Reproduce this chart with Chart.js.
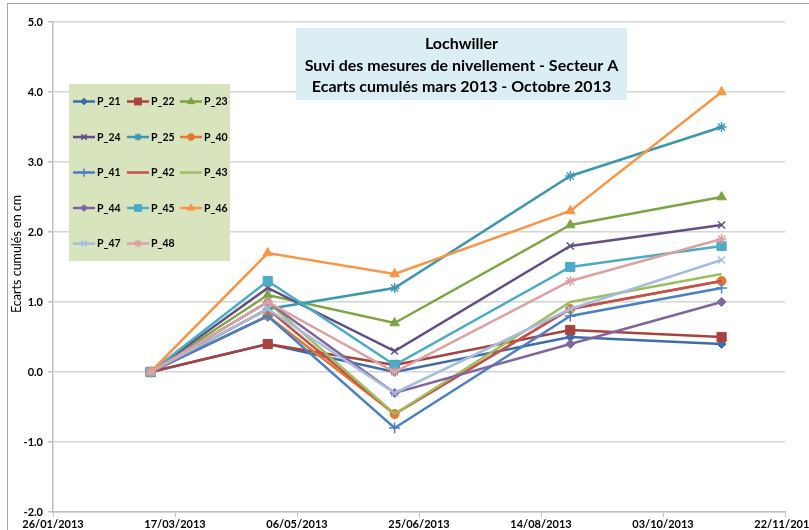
<!DOCTYPE html>
<html>
<head>
<meta charset="utf-8">
<script src="https://cdn.jsdelivr.net/npm/chart.js@4.4.1/dist/chart.umd.min.js"></script>
<style>
  html, body { margin: 0; padding: 0; background: #ffffff; }
  #wrap { width: 809px; height: 530px; position: relative; }
</style>
</head>
<body>
<div id="wrap"><canvas id="c" width="809" height="530"></canvas></div>
<script>
// Survey campaigns (levelling measurements) and date axis
const surveyDates = ['2013-03-07', '2013-04-24', '2013-06-15', '2013-08-26', '2013-10-27'];
const axisStart = '2013-01-26';
const axisEnd = '2013-11-22';
const dateTickLabels = ['26/01/2013', '17/03/2013', '06/05/2013', '25/06/2013', '14/08/2013', '03/10/2013', '22/11/2013'];

// Cumulated offsets per benchmark, in cm
const P_21 = [0, 0.4, 0.0, 0.5, 0.4];
const P_22 = [0, 0.4, 0.1, 0.6, 0.5];
const P_23 = [0, 1.1, 0.7, 2.1, 2.5];
const P_24 = [0, 1.2, 0.3, 1.8, 2.1];
const P_25 = [0, 0.9, 1.2, 2.8, 3.5];
const P_40 = [0, 0.8, -0.6, 0.9, 1.3];
const P_41 = [0, 0.8, -0.8, 0.8, 1.2];
const P_42 = [0, 0.9, -0.6, 0.9, 1.3];
const P_43 = [0, 1.0, -0.6, 1.0, 1.4];
const P_44 = [0, 1.0, -0.3, 0.4, 1.0];
const P_45 = [0, 1.3, 0.1, 1.5, 1.8];
const P_46 = [0, 1.7, 1.4, 2.3, 4.0];
const P_47 = [0, 0.9, -0.3, 0.9, 1.6];
const P_48 = [0, 1.0, 0.0, 1.3, 1.9];

const seriesNames = ['P_21', 'P_22', 'P_23', 'P_24', 'P_25', 'P_40', 'P_41', 'P_42', 'P_43', 'P_44', 'P_45', 'P_46', 'P_47', 'P_48'];
const seriesValues = [P_21, P_22, P_23, P_24, P_25, P_40, P_41, P_42, P_43, P_44, P_45, P_46, P_47, P_48];

const yTitle = 'Ecarts cumulés en cm';
const titleLines = ['Lochwiller', 'Suvi des mesures de nivellement - Secteur A', 'Ecarts cumulés mars 2013 - Octobre 2013'];

// Styling per series
const seriesColors = ['#3E6DAA', '#A8423F', '#7EA443', '#644E86', '#3D97AE', '#E1782E', '#4B80C4', '#C4514E', '#9DBE5C', '#8165A3', '#4BACC6', '#F79646', '#A5BDDE', '#DCA2A1'];
const seriesMarkers = ['rectRot', 'rect', 'triangle', 'crossRot', 'star', 'circle', 'cross', false, false, 'rectRot', 'rect', 'triangle', 'crossRot', 'star'];
const markerRadius = { rectRot: 4.5, rect: 6.5, triangle: 5.5, crossRot: 5, star: 5, circle: 4.5, cross: 5.5 };

const FONT = 'Lato, "Open Sans", sans-serif';
const DAY = 86400000;
const dayIndex = (iso) => Math.round((Date.parse(iso + 'T00:00:00Z') - Date.parse(axisStart + 'T00:00:00Z')) / DAY);
const xMax = dayIndex(axisEnd);

const datasets = seriesNames.map((name, i) => {
  const marker = seriesMarkers[i];
  const isCross = marker === 'cross' || marker === 'crossRot' || marker === 'star';
  return {
    label: name,
    data: seriesValues[i].map((v, k) => ({ x: dayIndex(surveyDates[k]), y: v })),
    borderColor: seriesColors[i],
    backgroundColor: seriesColors[i],
    borderWidth: 2.5,
    pointStyle: marker || 'circle',
    pointRadius: marker ? markerRadius[marker] : 0,
    pointBorderWidth: isCross ? 1.5 : 1,
    pointBorderColor: seriesColors[i],
    pointBackgroundColor: seriesColors[i],
    tension: 0,
    order: seriesNames.length - i
  };
});

// Frame, title box, legend box and vertical axis title
const decorations = {
  id: 'decorations',
  beforeDraw(chart) {
    const ctx = chart.ctx;
    ctx.save();
    ctx.strokeStyle = '#A6A6A6';
    ctx.lineWidth = 1;
    ctx.strokeRect(7.5, 3.5, 820, 540);
    ctx.restore();
  },
  afterDraw(chart) {
    const ctx = chart.ctx;
    ctx.save();
    // title box
    ctx.fillStyle = '#DBEEF4';
    ctx.fillRect(296, 28, 331, 72);
    ctx.fillStyle = '#000000';
    ctx.font = 'bold 16px ' + FONT;
    ctx.textAlign = 'center';
    ctx.textBaseline = 'middle';
    const ty = [44, 65.5, 87];
    titleLines.forEach((t, i) => ctx.fillText(t, 461.5, ty[i]));

    // legend box
    ctx.fillStyle = '#D7E4BD';
    ctx.fillRect(69, 84, 161, 177);
    const colX = [73, 127, 180];
    ctx.font = 'bold 10.5px ' + FONT;
    ctx.textAlign = 'left';
    chart.data.datasets.forEach((ds, i) => {
      const r = Math.floor(i / 3), c = i % 3;
      const x0 = colX[c], y0 = 101.5 + r * 35.5;
      ctx.strokeStyle = ds.borderColor;
      ctx.lineWidth = 2.5;
      ctx.beginPath();
      ctx.moveTo(x0, y0);
      ctx.lineTo(x0 + 22, y0);
      ctx.stroke();
      if (ds.pointRadius > 0) {
        ctx.fillStyle = ds.backgroundColor;
        ctx.strokeStyle = ds.borderColor;
        ctx.lineWidth = ds.pointBorderWidth;
        Chart.helpers.drawPoint(ctx, { pointStyle: ds.pointStyle, radius: ds.pointRadius * 0.75, borderWidth: ds.pointBorderWidth }, x0 + 11, y0);
      }
      ctx.fillStyle = '#000000';
      ctx.fillText(ds.label, x0 + 24, y0 + 0.5);
    });

    // vertical axis title
    ctx.translate(17, 254);
    ctx.rotate(-Math.PI / 2);
    ctx.font = '12.5px ' + FONT;
    ctx.textAlign = 'center';
    ctx.textBaseline = 'middle';
    ctx.fillStyle = '#000000';
    ctx.fillText(yTitle, 0, 0);
    ctx.restore();
  }
};

new Chart(document.getElementById('c'), {
  type: 'line',
  data: { datasets },
  options: {
    responsive: false,
    animation: false,
    events: [],
    layout: { padding: { left: 0, top: 22, right: 24, bottom: 0 } },
    plugins: { legend: { display: false }, tooltip: { enabled: false }, title: { display: false } },
    scales: {
      x: {
        type: 'linear',
        min: 0,
        max: xMax,
        afterFit(scale) { scale.height = 18; scale.paddingLeft = 0; scale.paddingRight = 0; },
        ticks: {
          stepSize: 50,
          autoSkip: false,
          maxRotation: 0,
          padding: 1,
          color: '#000000',
          font: { family: FONT, size: 11, weight: 'bold' },
          callback: (v) => dateTickLabels[Math.round(v / 50)] || ''
        },
        grid: { drawOnChartArea: false, drawTicks: true, tickLength: 5, color: '#BFBFBF', lineWidth: 1 },
        border: { display: true, color: '#BFBFBF', width: 1.5 }
      },
      y: {
        min: -2,
        max: 5,
        afterFit(scale) { scale.width = 53; scale.paddingTop = 0; scale.paddingBottom = 0; },
        ticks: {
          stepSize: 1,
          padding: 5,
          color: '#000000',
          font: { family: FONT, size: 11, weight: 'bold' },
          callback: (v) => Number(v).toFixed(1)
        },
        grid: { color: '#D4D4D4', lineWidth: 1.5, tickLength: 5, tickColor: '#BFBFBF' },
        border: { display: true, color: '#BFBFBF', width: 1.5 }
      }
    }
  },
  plugins: [decorations]
});
</script>
</body>
</html>
